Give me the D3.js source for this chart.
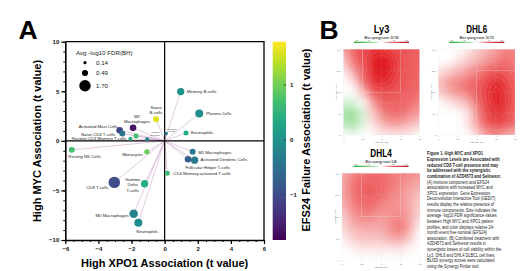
<!DOCTYPE html>
<html>
<head>
<meta charset="utf-8">
<script src="https://cdn.jsdelivr.net/npm/d3@7"></script>
<style>
  body { margin: 0; background: #fff; }
  svg { display: block; font-family: "Liberation Sans", Arial, sans-serif; }
</style>
</head>
<body>
<div id="chart"></div>
<script>
// ---- panel A : immune components (GEDIT)
var cellTypes = ["Memory B-cells", "Plasma Cells", "Eosinophils", "Naive\nB-cells", "M2\nMacrophages",
  "Activated Mast Cells", "Naive CD4 T-cells", "Resting CD4 Memory T-cells", "Resting Mast Cells",
  "Activated\nNK Cells", "Regulatory\nT-cells", "Resting NK Cells", "Monocytes", "CD8 T-cells",
  "Gamma\nDelta\nT-cells", "M0 Macrophages", "Neutrophils", "M1 Macrophages",
  "Activated Dendritic Cells", "Follicular Helper T-cells", "CD4 Memory-activated T-cells"];
var xpo1T = [0.97, 2.09, 1.29, -0.52, -1.91, -2.72, -2.56, -2.07, -1.73, -1.06, 0.08,
  -5.61, -1.07, -3.04, -1.21, -1.87, -1.59, 1.69, 1.81, 1.41, 0.16];
var mycT = [4.97, 2.75, 0.80, 2.18, 1.31, 1.07, 0.74, 0.20, 0.50, 0.17, 0.74,
  -0.91, -1.11, -4.19, -4.33, -7.35, -8.26, -1.11, -1.95, -1.85, -3.26];
var fdrAvg = [0.70, 0.84, 0.33, 0.47, 0.57, 0.57, 0.47, 0.21, 0.33, 0.21, 0.18,
  0.47, 0.38, 1.70, 0.70, 0.97, 0.84, 0.47, 0.70, 0.57, 0.33];
var efs24T = [0.0, -0.05, 0.4, 1.6, -1.65, -1.1, -0.4, 0.35, 0.7, -0.2, -0.5,
  0.7, 0.95, -1.0, 0.4, -0.2, -0.1, -0.4, -0.35, -0.75, 0.65];
var sizeLegend = [0.14, 0.49, 1.70];
var xTicks = [-6, -4, -2, 0, 2, 4, 6];
var yTicks = [-10, -5, 0, 5, 10];
var cbTicks = [-1, 0, 1];

// ---- panel B : Bliss synergy surfaces (rows = high -> low Selinexor, cols = low -> high AZD4573)
var ly3Scores = [
  [8, 14, 18, 24, 26, 22, 18, 16, 14],
  [5, 12, 18, 30, 38, 30, 20, 16, 14],
  [2, 8, 16, 30, 40, 30, 20, 16, 14],
  [0, 3, 12, 24, 30, 24, 18, 15, 13],
  [0, 0, 6, 16, 20, 18, 16, 14, 12],
  [-4, -4, 0, 8, 14, 14, 14, 12, 10],
  [-8, -9, -4, 4, 10, 12, 12, 10, 8],
  [-6, -8, -3, 2, 6, 8, 8, 6, 4],
  [0, -2, 0, 0, 2, 2, 2, 2, 0]];
var dhl6Scores = [
  [0, 0, 0, 2, 4, 6, 8, 10, 10],
  [0, 0, 2, 4, 6, 8, 10, 12, 10],
  [2, 4, 6, 8, 10, 14, 18, 16, 12],
  [5, 8, 10, 11, 14, 20, 28, 22, 14],
  [4, 7, 9, 11, 16, 24, 36, 26, 16],
  [0, 2, 4, 6, 12, 22, 34, 26, 16],
  [0, 0, 0, 2, 10, 20, 26, 22, 14],
  [0, 0, 0, 2, 8, 16, 20, 18, 12],
  [0, 0, 0, 0, 4, 8, 10, 8, 6]];
var dhl4Scores = [
  [6, 10, 11, 12, 12, 11, 10, 10, 8],
  [7, 11, 14, 15, 13, 11, 10, 8, 7],
  [7, 11, 14, 16, 13, 10, 9, 7, 5],
  [6, 10, 12, 12, 10, 9, 9, 7, 4],
  [4, 8, 10, 10, 8, 9, 10, 7, 3],
  [3, 6, 7, 7, 7, 9, 12, 7, 1],
  [1, 4, 5, 5, 5, 7, 8, 4, 0],
  [0, 1, 2, 2, 2, 2, 2, 1, 0],
  [0, 0, 0, 0, 0, 0, 0, 0, 0]];
var blissScores = ["33.762", "16.772", "5.94"];
var cellLines = ["Ly3", "DHL6", "DHL4"];
var azdDoses = ["0", "2.5", "5", "10", "20"];
var selDoses = ["400", "200", "100", "50", "0"];
var legendTicks = ["-100", "-50", "0", "50", "100"];

var captionLines = [
  "Figure 1. High MYC and XPO1",
  "Expression Levels are Associated with",
  "reduced CD8 T-cell presence and may",
  "be addressed with the synergistic",
  "combination of AZD4573 and Selinexor.",
  "(A) Immune component and EFS24",
  "associations with increased MYC and",
  "XPO1 expression. Gene Expression",
  "Deconvolution Interactive Tool (GEDIT)",
  "results display the relative presence of",
  "immune components. Size indicates the",
  "average -log10 FDR significance values",
  "between High MYC and XPO1 patient",
  "profiles, and color displays relative 24-",
  "month event free survival (EFS24)",
  "association. (B) Combined treatment with",
  "AZD4573 and Selinexor results in",
  "synergistic losses of cell viability within the",
  "Ly3, DHL6 and DHL4 DLBCL cell lines.",
  "BLISS synergy scores were calculated",
  "using the Synergy Finder tool."];

var width = 520, height = 271;
var svg = d3.select("#chart").append("svg")
  .attr("width", width).attr("height", height);
var defs = svg.append("defs");

// ================= panel A =================
var x = d3.scaleLinear().domain([-6, 6]).range([65.3, 264]);
var y = d3.scaleLinear().domain([-10, 10]).range([240, 41.7]);
var r = d3.scaleSqrt().domain([0, 1.7]).range([0, 5.7]);
var cDomain = [-1.83, 1.78];
var color = d3.scaleSequential(d3.interpolateViridis).domain(cDomain);

var pts = cellTypes.map(function(c, i) {
  return {name: c, x: xpo1T[i], y: mycT[i], s: fdrAvg[i], c: efs24T[i], i: i};
});

// label placement (px offsets from the bubble)
var labelPos = [
  [6, 0, "start"], [7, 0, "start"], [5, 0, "start"], [0, -12, "middle"], [4, -11.5, "middle"],
  [-2, -4, "end"], [-7, 0.6, "end"], [-4, -0.7, "end"], null, [8, -6.5, "middle"],
  [6, -4.5, "middle"], [-3.4, 6.5, "start"], [-4, 2.5, "end"], [-6, 4.7, "end"],
  [-12, -4.7, "middle"], [-5, 1.3, "end"], [-2, 8.5, "start"], [5.5, 0.3, "start"],
  [6, -1, "start"], [-2.6, 8, "start"], [6, 0, "start"]];

// lines from origin
svg.append("g").selectAll("line").data(pts).join("line")
  .attr("x1", x(0)).attr("y1", y(0))
  .attr("x2", function(d) { return x(d.x); })
  .attr("y2", function(d) { return y(d.y); })
  .attr("stroke", "#cfa6cc").attr("stroke-width", 0.6);

// minor ticks
svg.append("g").attr("transform", "translate(0," + y(-10) + ")")
  .call(d3.axisBottom(x).tickValues(d3.range(-6, 6.01, 0.5)).tickSize(2).tickFormat(""))
  .call(function(g) { g.select(".domain").remove(); g.selectAll("line").attr("stroke-width", 1); });
svg.append("g").attr("transform", "translate(" + x(-6) + ",0)")
  .call(d3.axisLeft(y).tickValues(d3.range(-10, 10.01, 1)).tickSize(2).tickFormat(""))
  .call(function(g) { g.select(".domain").remove(); g.selectAll("line").attr("stroke-width", 1); });

// major axes
var xAxis = svg.append("g").attr("transform", "translate(0," + y(-10) + ")")
  .call(d3.axisBottom(x).tickValues(xTicks).tickSize(4).tickPadding(3).tickSizeOuter(0));
var yAxis = svg.append("g").attr("transform", "translate(" + x(-6) + ",0)")
  .call(d3.axisLeft(y).tickValues(yTicks).tickSize(4).tickPadding(2).tickSizeOuter(0));
[xAxis, yAxis].forEach(function(g) {
  g.select(".domain").attr("stroke-width", 1.6);
  g.selectAll(".tick line").attr("stroke-width", 1.2);
  g.selectAll("text").attr("font-size", 6).attr("font-weight", "bold")
    .attr("font-family", "Liberation Sans, Arial, sans-serif").attr("fill", "#111");
});

// box + quadrant lines
svg.append("path")
  .attr("d", "M" + x(-6) + "," + y(10) + "H" + x(6) + "V" + y(-10))
  .attr("fill", "none").attr("stroke", "#000").attr("stroke-width", 1.3);
svg.append("line").attr("x1", x(0)).attr("x2", x(0)).attr("y1", y(10)).attr("y2", y(-10))
  .attr("stroke", "#000").attr("stroke-width", 1.2);
svg.append("line").attr("x1", x(-6)).attr("x2", x(6)).attr("y1", y(0)).attr("y2", y(0))
  .attr("stroke", "#000").attr("stroke-width", 1.2);

// bubbles
svg.append("g").selectAll("circle").data(pts).join("circle")
  .attr("cx", function(d) { return x(d.x); })
  .attr("cy", function(d) { return y(d.y); })
  .attr("r", function(d) { return r(d.s); })
  .attr("fill", function(d) { return color(d.c); });

// bubble labels
var lab = svg.append("g").attr("fill", "#222");
pts.forEach(function(d, i) {
  var p = labelPos[i];
  if (!p) return;
  var lines = d.name.split("\n");
  var tiny = (i === 9 || i === 10);
  var fs = tiny ? 2.2 : 4.3, lh = tiny ? 2.5 : 5.5;
  var t = lab.append("text")
    .attr("x", x(d.x) + p[0])
    .attr("y", y(d.y) + p[1] + fs * 0.35)
    .attr("text-anchor", p[2])
    .attr("font-size", fs);
  lines.forEach(function(l, k) {
    t.append("tspan").attr("x", x(d.x) + p[0]).attr("dy", k === 0 ? 0 : lh).text(l);
  });
});

// size legend
svg.append("text").attr("x", 76).attr("y", 54.5).attr("font-size", 6.2).attr("fill", "#222")
  .text("Avg -log10 FDR(BH)");
var legY = [62.7, 73, 85.7];
sizeLegend.forEach(function(v, i) {
  svg.append("circle").attr("cx", 85).attr("cy", legY[i]).attr("r", r(v)).attr("fill", "#000");
  svg.append("text").attr("x", 96).attr("y", legY[i] + 2.2).attr("font-size", 6.2).attr("fill", "#222")
    .text(v.toFixed(2));
});

// axis titles
svg.append("text").attr("x", x(0)).attr("y", 266.5).attr("text-anchor", "middle")
  .attr("font-size", 11).attr("font-weight", "bold").text("High XPO1 Association (t value)");
svg.append("text").attr("transform", "translate(41,141) rotate(-90)").attr("text-anchor", "middle")
  .attr("font-size", 11).attr("font-weight", "bold").text("High MYC Association (t value)");

// colour bar
var cb = d3.scaleLinear().domain(cDomain).range([240, 41.7]);
var grad = defs.append("linearGradient").attr("id", "viridis")
  .attr("x1", 0).attr("y1", 1).attr("x2", 0).attr("y2", 0);
d3.range(0, 1.001, 0.1).forEach(function(t) {
  grad.append("stop").attr("offset", t).attr("stop-color", d3.interpolateViridis(t));
});
svg.append("rect").attr("x", 272.7).attr("y", 41.7).attr("width", 13.3).attr("height", 198.3)
  .attr("fill", "url(#viridis)");
var cbAxis = svg.append("g").attr("transform", "translate(286,0)")
  .call(d3.axisRight(cb).tickValues(cbTicks).tickSize(-2.5).tickPadding(4).tickFormat(d3.format("d")));
cbAxis.select(".domain").remove();
cbAxis.selectAll("line").attr("stroke", "#333").attr("stroke-width", 0.8);
cbAxis.selectAll("text").attr("font-size", 6).attr("font-weight", "bold").attr("fill", "#111")
  .attr("font-family", "Liberation Sans, Arial, sans-serif");
svg.append("text").attr("transform", "translate(309.5,140) rotate(-90)").attr("text-anchor", "middle")
  .attr("font-size", 11).attr("font-weight", "bold").text("EFS24 Failure Association (t value)");

// panel letters
svg.append("text").attr("x", 18.5).attr("y", 39).attr("font-size", 26.5).attr("font-weight", "bold").text("A");
svg.append("text").attr("x", 319.5).attr("y", 39).attr("font-size", 26.5).attr("font-weight", "bold").text("B");

// ================= panel B =================
var synColor = d3.scaleLinear().domain([-20, 0, 12, 32])
  .range(["#1db31d", "#ffffff", "#f06a6a", "#e0141c"]).clamp(true);

var blur = defs.append("filter").attr("id", "blur").attr("filterUnits", "userSpaceOnUse")
  .attr("x", 0).attr("y", 0).attr("width", width).attr("height", height);
blur.append("feGaussianBlur").attr("stdDeviation", 4.5);

var lgrad = defs.append("linearGradient").attr("id", "synleg");
[["0", "#1aa61a"], ["0.35", "#9be09b"], ["0.5", "#ffffff"], ["0.65", "#f08080"], ["1", "#b0101a"]]
  .forEach(function(s) { lgrad.append("stop").attr("offset", s[0]).attr("stop-color", s[1]); });

var panels = [
  {box: {x: 343.5, y: 49.3, w: 76, h: 85.7}, scores: ly3Scores, hl: [2, 0, 6, 4], tl: 15.5},
  {box: {x: 438.5, y: 49.3, w: 76.5, h: 85.7}, scores: dhl6Scores, hl: [4, 2, 8, 8], tl: 21},
  {box: {x: 342, y: 173.3, w: 78, h: 86.7}, scores: dhl4Scores, hl: [2, 0, 6, 4], tl: 21.5}];

panels.forEach(function(p, k) {
  var b = p.box;
  var g = svg.append("g");
  var sx = d3.scaleLinear().domain([0, 8]).range([b.x, b.x + b.w]);
  var sy = d3.scaleLinear().domain([0, 8]).range([b.y, b.y + b.h]);
  var cw = b.w / 8, ch = b.h / 8;

  defs.append("clipPath").attr("id", "clip" + k).append("rect")
    .attr("x", b.x).attr("y", b.y).attr("width", b.w).attr("height", b.h);

  var cells = [];
  p.scores.forEach(function(row, i) { row.forEach(function(v, j) { cells.push({i: i, j: j, v: v}); }); });

  var clipped = g.append("g").attr("clip-path", "url(#clip" + k + ")");
  clipped.append("g").attr("filter", "url(#blur)")
    .selectAll("rect").data(cells).join("rect")
    .attr("x", function(d) { return sx(d.j) - cw / 2 - (d.j === 0 ? cw : 0); })
    .attr("y", function(d) { return sy(d.i) - ch / 2 - (d.i === 0 ? ch : 0); })
    .attr("width", function(d) { return cw + (d.j === 0 || d.j === 8 ? cw : 0) + 0.2; })
    .attr("height", function(d) { return ch + (d.i === 0 || d.i === 8 ? ch : 0) + 0.2; })
    .attr("fill", function(d) { return synColor(d.v); });

  // contour rings
  var flat = [];
  p.scores.forEach(function(row) { row.forEach(function(v) { flat.push(v); }); });
  var cont = d3.contours().size([9, 9]).thresholds(d3.range(6, 34, 4))(flat);
  var ring = d3.line().curve(d3.curveBasisClosed)
    .x(function(c) { return sx(c[0] - 0.5); }).y(function(c) { return sy(c[1] - 0.5); });
  cont.forEach(function(c) {
    c.coordinates.forEach(function(poly) {
      poly.forEach(function(rg) {
        clipped.append("path").attr("d", ring(rg.slice(0, -1)))
          .attr("fill", "none").attr("stroke", "#fff").attr("stroke-opacity", 0.25).attr("stroke-width", 0.4);
      });
    });
  });

  // grid
  var gt = [0, 2, 4, 6, 8];
  g.append("g").selectAll("line.v").data(gt).join("line")
    .attr("x1", function(d) { return sx(d); }).attr("x2", function(d) { return sx(d); })
    .attr("y1", b.y).attr("y2", b.y + b.h)
    .attr("stroke", "#d0d0d0").attr("stroke-opacity", 0.4).attr("stroke-width", 0.3);
  g.append("g").selectAll("line.h").data(gt).join("line")
    .attr("y1", function(d) { return sy(d); }).attr("y2", function(d) { return sy(d); })
    .attr("x1", b.x).attr("x2", b.x + b.w)
    .attr("stroke", "#d0d0d0").attr("stroke-opacity", 0.4).attr("stroke-width", 0.3);

  // most synergistic area box
  g.append("rect").attr("x", sx(p.hl[0])).attr("y", sy(p.hl[1]))
    .attr("width", sx(p.hl[2]) - sx(p.hl[0])).attr("height", sy(p.hl[3]) - sy(p.hl[1]))
    .attr("fill", "none").attr("stroke", "#fff").attr("stroke-opacity", 0.45).attr("stroke-width", 0.4);

  // tiny axes
  var ax = g.append("g").attr("transform", "translate(0," + (b.y + b.h + 1) + ")")
    .call(d3.axisBottom(sx).tickValues(gt).tickSize(1).tickPadding(1)
      .tickFormat(function(d, i) { return azdDoses[i]; }));
  var ay = g.append("g").attr("transform", "translate(" + (b.x - 1) + ",0)")
    .call(d3.axisLeft(sy).tickValues(gt).tickSize(1).tickPadding(1)
      .tickFormat(function(d, i) { return selDoses[i]; }));
  [ax, ay].forEach(function(a) {
    a.select(".domain").remove();
    a.selectAll("line").attr("stroke", "#999").attr("stroke-width", 0.3);
    a.selectAll("text").attr("font-size", 2.2).attr("fill", "#666");
  });
  g.append("text").attr("x", b.x + b.w / 2).attr("y", b.y + b.h + 7.5).attr("text-anchor", "middle")
    .attr("font-size", 2.2).attr("fill", "#666").text("AZD4573 (nM)");
  g.append("text").attr("transform", "translate(" + (b.x - 6.5) + "," + (b.y + b.h / 2) + ") rotate(-90)")
    .attr("text-anchor", "middle").attr("font-size", 2.2).attr("fill", "#666").text("Selinexor (nM)");

  // title + legend bar
  var cx = b.x + b.w / 2;
  g.append("text").attr("x", cx).attr("y", b.y - 16.3).attr("text-anchor", "middle")
    .attr("font-size", 10).attr("font-weight", "bold")
    .attr("textLength", p.tl).attr("lengthAdjust", "spacingAndGlyphs").text(cellLines[k]);
  g.append("text").attr("x", cx).attr("y", b.y - 10.8).attr("text-anchor", "middle")
    .attr("font-size", 2.6).attr("font-weight", "bold").attr("fill", "#333")
    .text("Bliss synergy score: " + blissScores[k]);
  var lx = d3.scalePoint().domain(legendTicks).range([cx - 25, cx + 25]);
  g.append("rect").attr("x", cx - 27.5).attr("y", b.y - 7.6).attr("width", 55).attr("height", 1.3)
    .attr("fill", "url(#synleg)");
  g.append("g").selectAll("text").data(legendTicks).join("text")
    .attr("x", function(d) { return lx(d); }).attr("y", b.y - 8.6).attr("text-anchor", "middle")
    .attr("font-size", 1.8).attr("fill", "#555").text(function(d) { return d; });
});

// caption
var cap = svg.append("g").attr("transform", "translate(427,0) scale(0.86,1)");
cap.selectAll("text").data(captionLines).join("text")
  .attr("x", 0)
  .attr("y", function(d, i) { return 155.5 + i * 5.62; })
  .attr("font-size", 4.6)
  .attr("font-weight", function(d, i) { return i < 5 ? "bold" : "normal"; })
  .attr("fill", "#222")
  .text(function(d) { return d; });
</script>
</body>
</html>
